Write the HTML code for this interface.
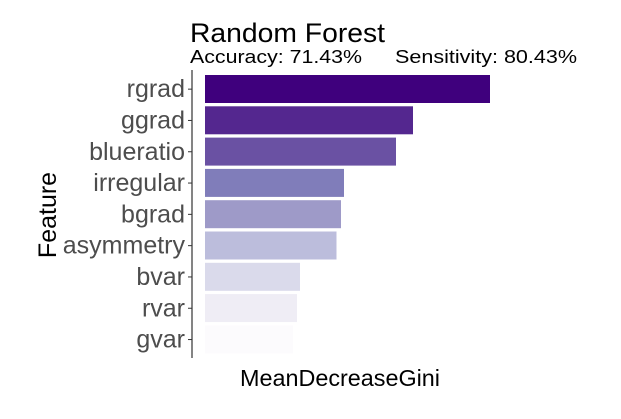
<!DOCTYPE html>
<html><head><meta charset="utf-8"><style>
body{margin:0;background:#fff;}
svg text{font-family:"Liberation Sans",sans-serif;}
</style></head><body>
<svg id="chart" width="621" height="414" viewBox="0 0 621 414" xmlns="http://www.w3.org/2000/svg">
<text x="190" y="42" font-size="27" textLength="195" lengthAdjust="spacingAndGlyphs" fill="#000">Random Forest</text>
<text x="190" y="63" font-size="18" textLength="172" lengthAdjust="spacingAndGlyphs" fill="#000">Accuracy: 71.43%</text>
<text x="395" y="63" font-size="18" textLength="182" lengthAdjust="spacingAndGlyphs" fill="#000">Sensitivity: 80.43%</text>
<line x1="192" y1="70" x2="192" y2="358" stroke="#333" stroke-width="1.2"/>
<g id="bars"></g>
<text transform="translate(56,215) rotate(-90)" text-anchor="middle" font-size="25" fill="#000">Feature</text>
<text x="340" y="386" text-anchor="middle" font-size="23" textLength="200" lengthAdjust="spacingAndGlyphs" fill="#000">MeanDecreaseGini</text>
</svg>
<script>
const categories = ["rgrad","ggrad","blueratio","irregular","bgrad","asymmetry","bvar","rvar","gvar"];
const values = [28.5,20.8,19.1,13.9,13.6,13.15,9.5,9.2,8.8];
const colors = ["#3f007d","#54278f","#6a51a3","#807dba","#9e9ac8","#bcbddc","#dadaeb","#efedf5","#fcfbfd"];
const NS="http://www.w3.org/2000/svg";
const x0=205, pxPerUnit=10;
function xScale(v){return x0+v*pxPerUnit;}
const yTop=73.5, band=31.3, barH=28;
function yScale(i){return yTop+i*band;}
const g=document.getElementById('bars');
categories.forEach((c,i)=>{
  const y=yScale(i);
  const r=document.createElementNS(NS,'rect');
  r.setAttribute('x',x0);r.setAttribute('y',y+1.5);
  r.setAttribute('width',xScale(values[i])-x0);r.setAttribute('height',barH);
  r.setAttribute('fill',colors[i]);
  
  
  g.appendChild(r);
  const cy=y+band/2;
  const t=document.createElementNS(NS,'line');
  t.setAttribute('x1',188);t.setAttribute('x2',192);t.setAttribute('y1',cy);t.setAttribute('y2',cy);
  t.setAttribute('stroke','#333');
  
  
  g.appendChild(t);
  const l=document.createElementNS(NS,'text');
  l.setAttribute('x',185);l.setAttribute('y',cy+8);
  l.setAttribute('text-anchor','end');l.setAttribute('font-size','25');l.setAttribute('fill','#4d4d4d');
  l.textContent=c;
  
  
  g.appendChild(l);
});
</script>
</body></html>
